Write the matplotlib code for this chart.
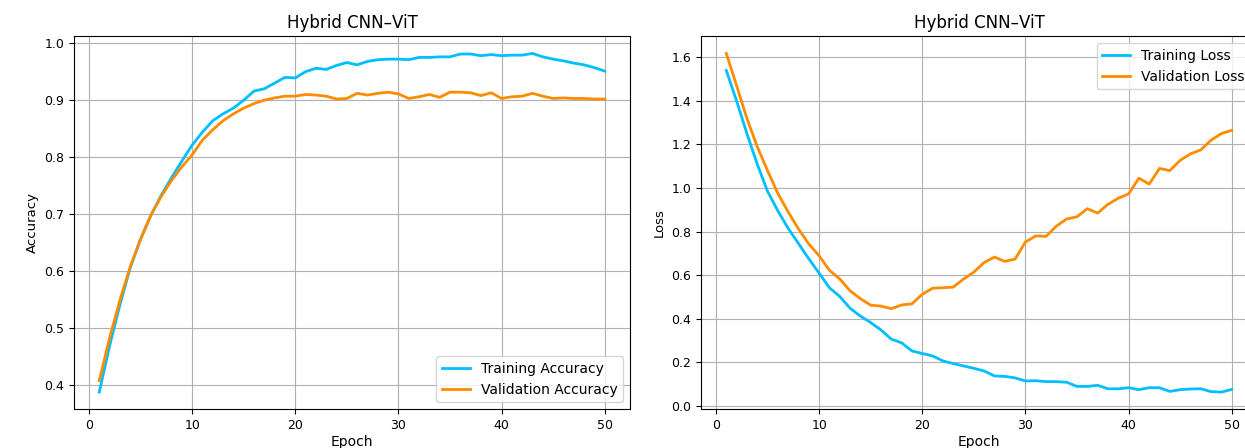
import numpy as np
import matplotlib
matplotlib.use("Agg")
from matplotlib import pyplot as plt

# epochs 1..50
epochs = np.arange(1, 51)

train_acc = [0.387, 0.468, 0.540, 0.605, 0.655, 0.697, 0.732, 0.763, 0.792, 0.820,
             0.843, 0.863, 0.875, 0.885, 0.899, 0.915, 0.919, 0.929, 0.939, 0.938,
             0.949, 0.955, 0.953, 0.960, 0.965, 0.961, 0.967, 0.970, 0.971, 0.971,
             0.970, 0.974, 0.974, 0.975, 0.975, 0.980, 0.980, 0.977, 0.979, 0.977,
             0.978, 0.978, 0.981, 0.975, 0.971, 0.968, 0.964, 0.961, 0.956, 0.950]
val_acc = [0.407, 0.482, 0.548, 0.607, 0.655, 0.697, 0.730, 0.758, 0.782, 0.803,
           0.829, 0.847, 0.863, 0.875, 0.885, 0.893, 0.899, 0.903, 0.906, 0.906,
           0.909, 0.908, 0.906, 0.901, 0.902, 0.911, 0.908, 0.911, 0.913, 0.910,
           0.902, 0.905, 0.909, 0.904, 0.913, 0.913, 0.912, 0.907, 0.912, 0.902,
           0.905, 0.906, 0.911, 0.906, 0.902, 0.903, 0.902, 0.902, 0.901, 0.901]

train_loss = [1.540, 1.400, 1.250, 1.110, 0.985, 0.895, 0.815, 0.745, 0.675, 0.609,
              0.542, 0.502, 0.448, 0.412, 0.382, 0.348, 0.306, 0.289, 0.252, 0.240,
              0.229, 0.206, 0.194, 0.183, 0.172, 0.160, 0.137, 0.135, 0.128, 0.114,
              0.115, 0.111, 0.111, 0.108, 0.089, 0.089, 0.094, 0.078, 0.078, 0.083,
              0.074, 0.083, 0.083, 0.066, 0.074, 0.077, 0.078, 0.065, 0.063, 0.075]
val_loss = [1.618, 1.470, 1.320, 1.190, 1.080, 0.975, 0.890, 0.812, 0.743, 0.689,
            0.622, 0.583, 0.528, 0.492, 0.462, 0.458, 0.446, 0.463, 0.468, 0.512,
            0.540, 0.542, 0.545, 0.582, 0.614, 0.658, 0.683, 0.663, 0.674, 0.752,
            0.780, 0.778, 0.825, 0.858, 0.868, 0.905, 0.885, 0.925, 0.953, 0.973,
            1.045, 1.018, 1.090, 1.080, 1.127, 1.157, 1.175, 1.220, 1.250, 1.265]

c_train = "deepskyblue"
c_val = "darkorange"

fig = plt.figure(figsize=(12.45, 4.48), dpi=100)
ax1 = fig.add_axes([74 / 1245, 1 - 409 / 448, 556 / 1245, 372.5 / 448])
ax2 = fig.add_axes([701 / 1245, 1 - 409 / 448, 556 / 1245, 372.5 / 448])

ax1.plot(epochs, train_acc, color=c_train, lw=2, label="Training Accuracy")
ax1.plot(epochs, val_acc, color=c_val, lw=2, label="Validation Accuracy")
ax1.set_title("Hybrid CNN\u2013ViT", fontsize=12)
ax1.set_xlabel("Epoch", fontsize=10, labelpad=2)
ax1.set_ylabel("Accuracy", fontsize=9.5)
ax1.legend(loc="lower right", fontsize=10)
ax1.grid(True)

ax2.plot(epochs, train_loss, color=c_train, lw=2, label="Training Loss")
ax2.plot(epochs, val_loss, color=c_val, lw=2, label="Validation Loss")
ax2.set_title("Hybrid CNN\u2013ViT", fontsize=12)
ax2.set_xlabel("Epoch", fontsize=10, labelpad=2)
ax2.set_ylabel("Loss", fontsize=9.5)
ax2.legend(loc="upper right", fontsize=10)
ax2.grid(True)

for ax in (ax1, ax2):
    ax.tick_params(labelsize=9)

fig.savefig("out.png", dpi=100)
